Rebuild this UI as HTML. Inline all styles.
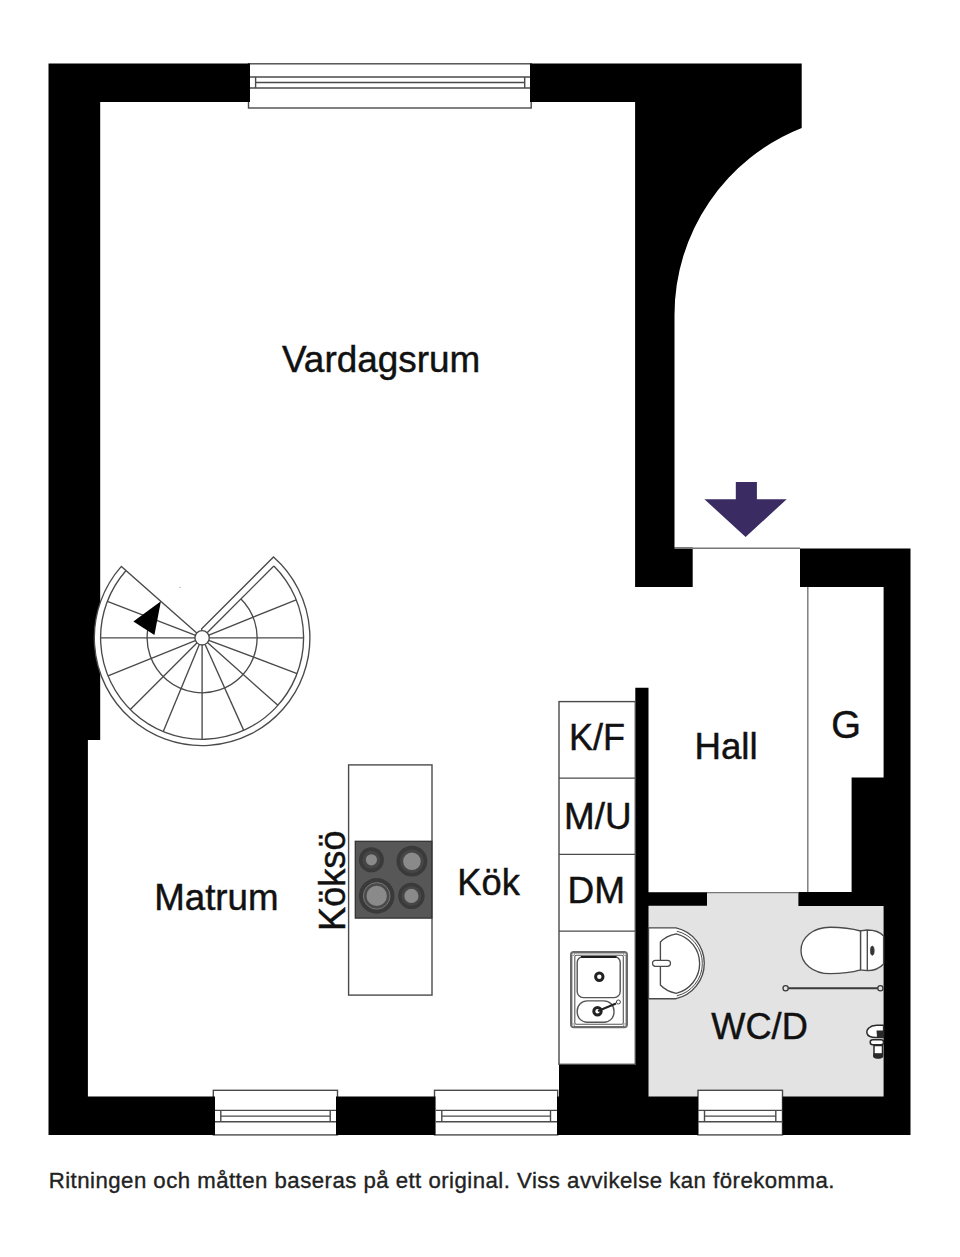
<!DOCTYPE html>
<html><head><meta charset="utf-8">
<style>
html,body{margin:0;padding:0;background:#fff;}
svg{display:block;}
text{font-family:"Liberation Sans",sans-serif;}
</style></head>
<body>
<svg width="960" height="1257" viewBox="0 0 960 1257">
<rect x="0" y="0" width="960" height="1257" fill="#fff"/>
<rect x="648" y="892.3" width="236" height="204.5" fill="#e3e3e3"/>
<rect x="213.3" y="1090.3" width="124.20" height="44.6" fill="#fff" stroke="#4a4a4a" stroke-width="1.4"/>
<rect x="434.5" y="1090.3" width="123.20" height="44.6" fill="#fff" stroke="#4a4a4a" stroke-width="1.4"/>
<rect x="698" y="1090.3" width="84.50" height="44.6" fill="#fff" stroke="#4a4a4a" stroke-width="1.4"/>
<rect x="248.5" y="63.8" width="282.7" height="44.2" fill="#fff" stroke="#4a4a4a" stroke-width="1.4"/>
<path d="M48.5 63.5 L250 63.5 L250 102 L100.2 102 L100.2 740 L87.9 740 L87.9 1096.5 L215 1096.5 L215 1135 L48.5 1135 Z M530 63.5 L801.7 63.5 L801.7 128 A201 201 0 0 0 674.5 315 L674.5 547.5 L692.7 547.5 L692.7 586.9 L635.1 586.9 L635.1 102 L530 102 Z M336 1096.5 L435.5 1096.5 L435.5 1135 L336 1135 Z M557 1135 L557 1096.5 L559 1096.5 L559 1064.3 L635.3 1064.3 L635.3 687.7 L648.5 687.7 L648.5 892.3 L707 892.3 L707 905.8 L648.5 905.8 L648.5 1096.5 L698 1096.5 L698 1135 Z M800 548.4 L910.5 548.4 L910.5 1135 L782.5 1135 L782.5 1096.5 L883.6 1096.5 L883.6 906 L798.4 906 L798.4 892 L851.6 892 L851.6 777.5 L883.6 777.5 L883.6 587 L800 587 Z" fill="#000"/>
<g stroke="#4a4a4a" stroke-width="1.4" fill="none">
<line x1="215" y1="1110.4" x2="336" y2="1110.4"/>
<line x1="215" y1="1121.7" x2="336" y2="1121.7"/>
<line x1="220.8" y1="1116.1" x2="330.2" y2="1116.1"/>
<line x1="220.8" y1="1110.4" x2="220.8" y2="1121.7"/>
<line x1="330.2" y1="1110.4" x2="330.2" y2="1121.7"/>
<line x1="435.5" y1="1110.4" x2="557" y2="1110.4"/>
<line x1="435.5" y1="1121.7" x2="557" y2="1121.7"/>
<line x1="441.8" y1="1116.1" x2="550.5" y2="1116.1"/>
<line x1="441.8" y1="1110.4" x2="441.8" y2="1121.7"/>
<line x1="550.5" y1="1110.4" x2="550.5" y2="1121.7"/>
<line x1="698" y1="1110.4" x2="782.5" y2="1110.4"/>
<line x1="698" y1="1121.7" x2="782.5" y2="1121.7"/>
<line x1="704.5" y1="1116.1" x2="775.8" y2="1116.1"/>
<line x1="704.5" y1="1110.4" x2="704.5" y2="1121.7"/>
<line x1="775.8" y1="1110.4" x2="775.8" y2="1121.7"/>
<line x1="250" y1="77" x2="530" y2="77"/>
<line x1="250" y1="88" x2="530" y2="88"/>
<line x1="255.6" y1="82.5" x2="524.7" y2="82.5"/>
<line x1="255.6" y1="77" x2="255.6" y2="88"/>
<line x1="524.7" y1="77" x2="524.7" y2="88"/>
<line x1="674.5" y1="548.2" x2="800" y2="548.2" stroke="#777"/>
<line x1="707" y1="892.6" x2="798.4" y2="892.6" stroke="#777"/>
<line x1="807.8" y1="587" x2="807.8" y2="892" stroke="#777"/>
</g>
<g stroke="#4a4a4a" stroke-width="1.35" fill="none">
<path d="M202.10 637.80 L121.36 566.37 A107.8 107.8 0 1 0 273.52 557.05 L201.68 628.89 Z" fill="#fff"/>
<path d="M126.08 570.54 A101.5 101.5 0 1 0 273.87 566.03"/>
<line x1="202.10" y1="637.80" x2="273.87" y2="566.03"/>
<line x1="202.10" y1="637.80" x2="296.21" y2="599.78"/>
<line x1="202.10" y1="637.80" x2="303.60" y2="637.80"/>
<line x1="202.10" y1="637.80" x2="297.11" y2="673.51"/>
<line x1="202.10" y1="637.80" x2="277.88" y2="705.32"/>
<line x1="202.10" y1="637.80" x2="243.71" y2="730.38"/>
<line x1="202.10" y1="637.80" x2="202.10" y2="739.30"/>
<line x1="202.10" y1="637.80" x2="163.26" y2="731.57"/>
<line x1="202.10" y1="637.80" x2="130.33" y2="709.57"/>
<line x1="202.10" y1="637.80" x2="107.99" y2="675.82"/>
<line x1="202.10" y1="637.80" x2="100.60" y2="637.80"/>
<line x1="202.10" y1="637.80" x2="107.34" y2="601.43"/>
<path d="M240.99 598.91 A55 55 0 1 1 147.64 630.15"/>
<circle cx="202.1" cy="637.8" r="7.2" fill="#fff"/>
</g>
<path d="M160.9 601.2 L133.4 621.6 L154.4 635 Z" fill="#000"/>
<circle cx="180" cy="587.5" r="0.8" fill="#bbb"/>
<g stroke="#4a4a4a" stroke-width="1.4" fill="none">
<rect x="559" y="701.6" width="76.3" height="362.7" fill="#fff"/>
<line x1="559" y1="778.1" x2="635.3" y2="778.1"/>
<line x1="559" y1="854.4" x2="635.3" y2="854.4"/>
<line x1="559" y1="931.1" x2="635.3" y2="931.1"/>
</g>
<g stroke="#666" fill="none">
<rect x="571.2" y="952.2" width="55.6" height="74.9" rx="2.5" stroke-width="2.4" stroke="#6a6a6a"/>
<rect x="574.8" y="955.3" width="48.5" height="68.9" rx="1.5" stroke-width="1.1" stroke="#555"/>
<rect x="577.2" y="956.6" width="43" height="41" rx="6" stroke-width="1.4" stroke="#555"/>
<path d="M581 956.9 L616.5 956.9" stroke="#1e1e1e" stroke-width="2"/>
<rect x="577.2" y="1000.9" width="36.8" height="21.4" rx="10" stroke-width="1.4" stroke="#555"/>
<circle cx="599.3" cy="976.8" r="3.7" stroke="#222" stroke-width="3"/>
<circle cx="597.5" cy="1011.3" r="3.7" stroke="#222" stroke-width="3"/>
<line x1="598" y1="1011" x2="616" y2="1003.5" stroke="#222" stroke-width="2"/>
<circle cx="618.4" cy="1002" r="2" stroke="#444" stroke-width="1" fill="#fff"/>
<g fill="#fff" stroke="#777" stroke-width="0.8">
<circle cx="573.2" cy="954.2" r="1.3"/><circle cx="624.8" cy="954.2" r="1.3"/>
<circle cx="573.2" cy="1025.1" r="1.3"/><circle cx="624.8" cy="1025.1" r="1.3"/>
</g>
</g>
<rect x="348.6" y="764.9" width="83.4" height="230.2" fill="#fff" stroke="#4a4a4a" stroke-width="1.4"/>
<rect x="355.3" y="841.3" width="76.5" height="76.8" fill="#575757" stroke="#333" stroke-width="1.3"/>
<circle cx="371.4" cy="859.8" r="12.5" fill="#3a3a3a"/>
<circle cx="371.4" cy="859.8" r="9" fill="#464646"/>
<circle cx="371.4" cy="859.8" r="5.6" fill="#8a8a8a"/>
<circle cx="411.9" cy="861.2" r="15.4" fill="#3a3a3a"/>
<circle cx="411.9" cy="861.2" r="11.8" fill="#464646"/>
<circle cx="411.9" cy="861.2" r="8.8" fill="#8a8a8a"/>
<circle cx="376.7" cy="895.9" r="17.8" fill="#3a3a3a"/>
<circle cx="376.7" cy="895.9" r="13.3" fill="#4a4a4a" stroke="#777" stroke-width="1"/>
<circle cx="376.7" cy="895.9" r="10.2" fill="#8a8a8a"/>
<circle cx="411.4" cy="895.9" r="13.2" fill="#3a3a3a"/>
<circle cx="411.4" cy="895.9" r="10" fill="#464646"/>
<circle cx="411.4" cy="895.9" r="7.1" fill="#8a8a8a"/>
<g stroke="#4a4a4a" stroke-width="1.35" fill="#fff">
<path d="M648.5 927.9 L676 927.9 A36.3 36.3 0 0 1 676 998.7 L648.5 998.7 Z"/>
<path d="M660.4 985 L660.4 942 C 664 938, 670 935, 676.2 933.8 A30.6 30.6 0 0 1 676.2 993.3 C 670 992, 664 989, 660.4 985 Z"/>
<path d="M676.8 931.2 A33.2 33.2 0 0 1 676.8 995.8" fill="none" stroke-width="1"/>
<rect x="652.5" y="960.3" width="18" height="6" rx="3" stroke-width="1.2"/>
</g>
<g stroke="#4a4a4a" stroke-width="1.35" fill="#fff">
<path d="M883.6 936 C 880 932, 874 930, 867.3 930 L860.5 930.8 L860.5 969.8 L867.3 970.6 C 874 970.6, 880 968, 883.6 964 Z"/>
<path d="M860.5 931 C 852 928.5, 842 927.2, 830 927.2 C 813 927.2, 801 937.5, 801 950.4 C 801 963.5, 813 973.6, 830 973.6 C 842 973.6, 852 972.3, 860.5 969.8 Z"/>
<line x1="867.3" y1="930" x2="867.3" y2="970.6"/>
<ellipse cx="872.3" cy="950.7" rx="1.9" ry="4.6" fill="#333" stroke-width="0.8"/>
</g>
<g stroke="#3a3a3a" fill="#e3e3e3">
<line x1="788" y1="988.3" x2="878" y2="988.3" stroke-width="2"/>
<circle cx="785.6" cy="988.3" r="2.6" stroke-width="1.3"/>
<circle cx="880.4" cy="988.3" r="2.6" stroke-width="1.3"/>
</g>
<g stroke="#2a2a2a" stroke-width="1.5">
<path d="M883.6 1025.2 L876.5 1025.2 C 869.5 1025.5, 866.2 1029.5, 867 1033.2 C 867.8 1036.5, 872 1037.6, 877 1037.4 L883.6 1037.4 Z" fill="#fff"/>
<path d="M876.5 1030.5 L883.6 1030.5 L883.6 1037.4 L877 1037.4 Z" fill="#2a2a2a" stroke="none"/>
<path d="M869.5 1032.8 L874.8 1030.8 L876.8 1035.8 Z" fill="#fff" stroke="none"/>
<rect x="870.2" y="1039.8" width="13.4" height="5" rx="2.5" fill="#fff"/>
<rect x="874" y="1045.5" width="8.5" height="8.5" fill="#fff"/>
<path d="M873.8 1054.5 L882.5 1054.5 L882.5 1056.5 C 881.5 1058.6, 874.8 1058.6, 873.8 1056.5 Z" fill="#2a2a2a"/>
</g>
<path d="M735.8 482 L756.9 482 L756.9 499.2 L786.7 499.2 L745.6 537 L704.4 499.2 L735.8 499.2 Z" fill="#3b2b63"/>
<g fill="#111" stroke="#111" stroke-width="0.45">
<text x="282.0" y="372.0" font-size="36.9">Vardagsrum</text>
<text x="154.2" y="909.6" font-size="36.7">Matrum</text>
<text x="457.3" y="894.7" font-size="36.3">Kök</text>
<text x="694.4" y="759.0" font-size="36.7">Hall</text>
<text x="831.3" y="738.4" font-size="38.2">G</text>
<text x="711.3" y="1038.6" font-size="36.2">WC/D</text>
<text x="569" y="750" font-size="36">K/F</text>
<text x="564.1" y="828.8" font-size="36.8">M/U</text>
<text x="567.5" y="903.2" font-size="37">DM</text>
<text transform="translate(344.5 931) rotate(-90)" x="0" y="0" font-size="36.2">Köksö</text>
</g>
<text x="48.7" y="1187.6" font-size="22.2" letter-spacing="0.475" fill="#222" stroke="#222" stroke-width="0.35">Ritningen och måtten baseras på ett original. Viss avvikelse kan förekomma.</text>
</svg>
</body></html>
